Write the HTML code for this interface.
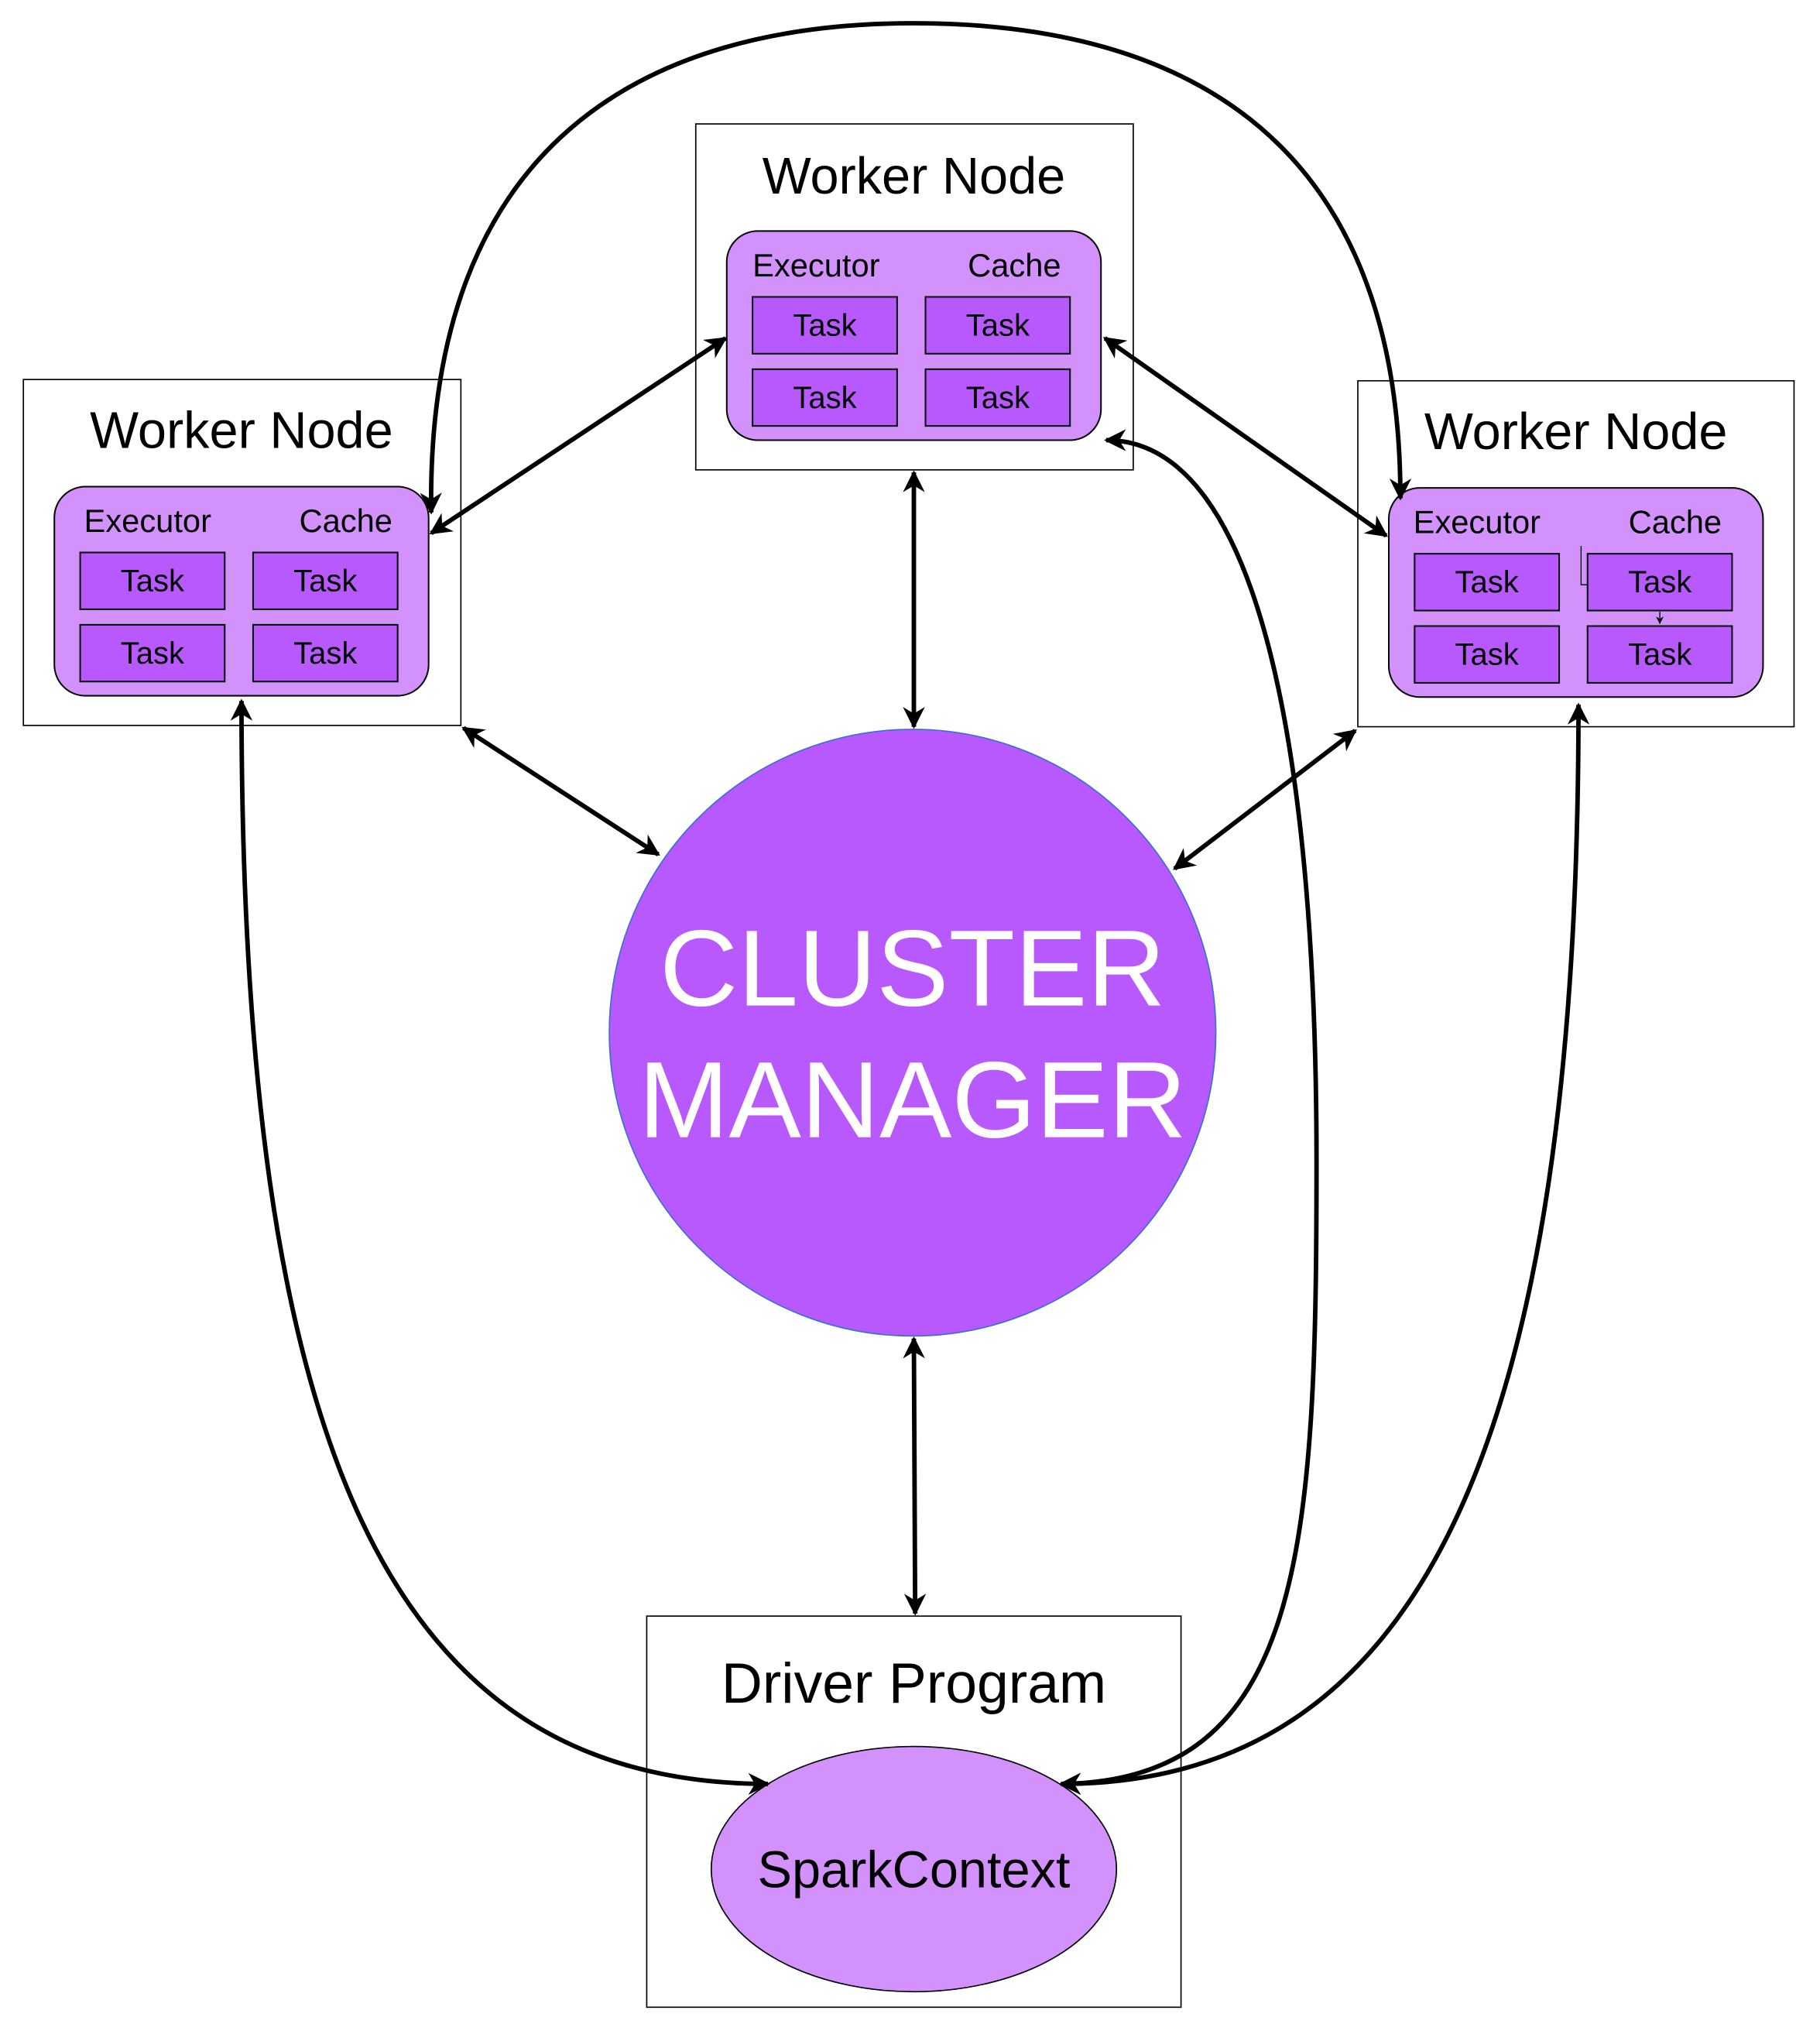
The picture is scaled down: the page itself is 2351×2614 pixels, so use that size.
<!DOCTYPE html>
<html><head><meta charset="utf-8"><style>html,body{margin:0;padding:0;background:#fff}svg{display:block}text{font-family:"Liberation Sans",sans-serif}</style></head>
<body>
<svg width="2351" height="2614" viewBox="0 0 1410 1568" xmlns="http://www.w3.org/2000/svg">
<defs>
<marker id="a" viewBox="0 0 10 10" refX="9" refY="5" markerWidth="6" markerHeight="6" orient="auto-start-reverse" markerUnits="userSpaceOnUse">
<path d="M0,0 L10,5 L0,10 L3,5 Z" fill="#000"/></marker>
<marker id="s" viewBox="0 0 10 10" refX="9" refY="5" markerWidth="17" markerHeight="17" orient="auto-start-reverse" markerUnits="userSpaceOnUse">
<path d="M0,0 L10,5 L0,10 L3,5 Z" fill="#000"/></marker>
</defs>
<rect width="1410" height="1568" fill="#fff"/>
<g stroke="#000" stroke-width="1" fill="#fff">
<rect x="539" y="96" width="339" height="268"/>
<rect x="18" y="294" width="339" height="268"/>
<rect x="1052" y="295" width="338" height="268"/>
<rect x="501" y="1252" width="414" height="303"/>
</g>
<g font-size="40" text-anchor="middle" fill="#000">
<text x="708" y="150">Worker Node</text>
<text x="187" y="347">Worker Node</text>
<text x="1221" y="348">Worker Node</text>
<text x="708" y="1319" font-size="44">Driver Program</text>
</g>
<g stroke="#000" stroke-width="1.2">
<rect x="563" y="179" width="290" height="162" rx="24" fill="#d291fb"/>
<rect x="42" y="377" width="290" height="162" rx="24" fill="#d291fb"/>
<rect x="1076" y="378" width="290" height="162" rx="24" fill="#d291fb"/>
<g fill="#b759fc">
<rect x="583" y="230" width="112" height="44"/><rect x="717" y="230" width="112" height="44"/>
<rect x="583" y="286" width="112" height="44"/><rect x="717" y="286" width="112" height="44"/>
<rect x="62" y="428" width="112" height="44"/><rect x="196" y="428" width="112" height="44"/>
<rect x="62" y="484" width="112" height="44"/><rect x="196" y="484" width="112" height="44"/>
<rect x="1096" y="429" width="112" height="44"/><rect x="1230" y="429" width="112" height="44"/>
<rect x="1096" y="485" width="112" height="44"/><rect x="1230" y="485" width="112" height="44"/>
</g>
</g>
<g font-size="25" fill="#000">
<text x="583" y="214">Executor</text><text x="822" y="214" text-anchor="end">Cache</text>
<text x="65" y="412">Executor</text><text x="304" y="412" text-anchor="end">Cache</text>
<text x="1095" y="413">Executor</text><text x="1334" y="413" text-anchor="end">Cache</text>
</g>
<g font-size="24" fill="#000" text-anchor="middle">
<text x="639" y="260">Task</text><text x="773" y="260">Task</text>
<text x="639" y="316">Task</text><text x="773" y="316">Task</text>
<text x="118" y="458">Task</text><text x="252" y="458">Task</text>
<text x="118" y="514">Task</text><text x="252" y="514">Task</text>
<text x="1152" y="459">Task</text><text x="1286" y="459">Task</text>
<text x="1152" y="515">Task</text><text x="1286" y="515">Task</text>
</g>
<path d="M1225,423 L1225,453 L1230,453" stroke="#000" stroke-width="0.8" fill="none"/>
<path d="M1286,474 L1286,483" stroke="#000" stroke-width="0.8" marker-end="url(#a)"/>
<circle cx="707" cy="800" r="235" fill="#b759fc" stroke="#3b6fd6" stroke-width="1"/>
<g font-size="84" fill="#fff" text-anchor="middle">
<text x="707" y="779">CLUSTER</text>
<text x="707" y="881">MANAGER</text>
</g>
<ellipse cx="708" cy="1448" rx="157" ry="95" fill="#d291fb" stroke="#000" stroke-width="1"/>
<text x="708" y="1462" font-size="40" text-anchor="middle" fill="#000">SparkContext</text>
<g stroke="#000" stroke-width="3.5" fill="none" marker-start="url(#s)" marker-end="url(#s)">
<path d="M334,397 C330,110 500,18 708,18 C920,18 1085,110 1085,386"/>
<path d="M334,413 L562,262"/>
<path d="M856,262 L1074,415"/>
<path d="M708,366 L708,563"/>
<path d="M359,564 L510,662"/>
<path d="M1050,566 L910,673"/>
<path d="M708,1037 L709,1250"/>
<path d="M187,543 C187,1120 300,1382 595,1382"/>
<path d="M1223,546 C1223,1120 1100,1382 822,1382"/>
<path d="M857,341 C980,341 1020,600 1020,900 C1020,1200 1010,1380 822,1382"/>
</g>
</svg>
</body></html>
